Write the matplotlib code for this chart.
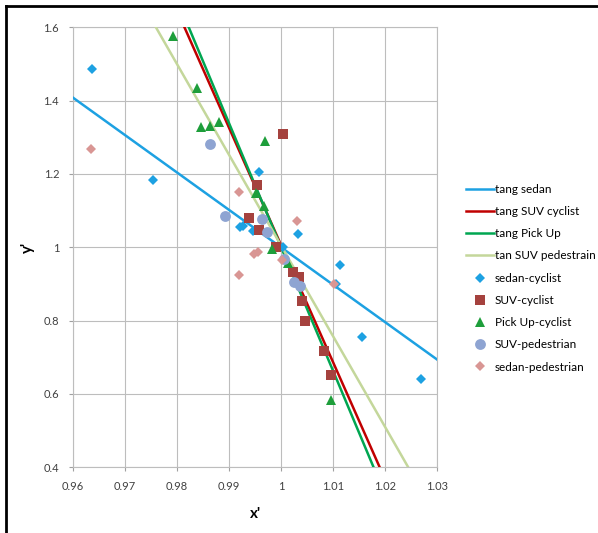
import numpy as np
import matplotlib
matplotlib.use('Agg')
import matplotlib.pyplot as plt
from matplotlib.lines import Line2D
from matplotlib.ticker import MultipleLocator, FuncFormatter

plt.rcParams['font.family'] = ['Lato', 'DejaVu Sans']

# tangent lines: y = slope * x + intercept
tang_labels = ['tang sedan', 'tang SUV cyclist', 'tang Pick Up', 'tan SUV pedestrain']
tang_slope = [-10.2, -31.96, -33.76, -24.73]
tang_intercept = [11.2, 32.9665, 34.761, 25.735]
tang_colors = ['#1DA1E2', '#C00000', '#00A651', '#C4D79B']

# measured points
sedan_cyc_x = [0.9637, 0.9753, 0.9957, 0.9921, 0.9927, 0.9946, 1.0033, 1.0004,
               1.0114, 1.0105, 1.0155, 1.0269]
sedan_cyc_y = [1.487, 1.184, 1.204, 1.056, 1.058, 1.045, 1.037, 1.002,
               0.952, 0.899, 0.754, 0.640]

suv_cyc_x = [1.0003, 0.9953, 0.9938, 0.9958, 0.9990, 1.0023, 1.0035, 1.0040,
             1.0047, 1.0083, 1.0096]
suv_cyc_y = [1.309, 1.171, 1.081, 1.047, 1.002, 0.932, 0.918, 0.854,
             0.799, 0.717, 0.652]

pickup_cyc_x = [0.9792, 0.9838, 0.9847, 0.9863, 0.9881, 0.9969, 0.9951, 0.9967,
                0.9982, 1.0014, 1.0096]
pickup_cyc_y = [1.576, 1.434, 1.327, 1.331, 1.343, 1.291, 1.147, 1.113,
                0.995, 0.956, 0.584]

suv_ped_x = [0.9864, 0.9893, 0.9964, 0.9974, 1.0005, 1.0025, 1.0036]
suv_ped_y = [1.282, 1.084, 1.076, 1.043, 0.967, 0.906, 0.895]

sedan_ped_x = [0.9635, 0.9919, 1.0031, 0.9948, 0.9956, 0.9919, 1.0001, 1.0101]
sedan_ped_y = [1.268, 1.150, 1.071, 0.981, 0.986, 0.924, 0.965, 0.899]

x_min, x_max = 0.96, 1.03
y_min, y_max = 0.4, 1.6

fig = plt.figure(figsize=(5.98, 5.33), dpi=100)
ax = fig.add_axes([0.1221, 0.1233, 0.6087, 0.8255])

handles = []
xs = np.linspace(x_min, x_max, 200)
for lab, k, b, c in zip(tang_labels, tang_slope, tang_intercept, tang_colors):
    h, = ax.plot(xs, k * xs + b, color=c, linewidth=1.8, label=lab, zorder=3)
    handles.append(h)

series = [
    ('sedan-cyclist', sedan_cyc_x, sedan_cyc_y, 'D', 5.4, '#1DA1E2'),
    ('SUV-cyclist', suv_cyc_x, suv_cyc_y, 's', 7.4, '#A5423E'),
    ('Pick Up-cyclist', pickup_cyc_x, pickup_cyc_y, '^', 7.8, '#1E9E3B'),
    ('SUV-pedestrian', suv_ped_x, suv_ped_y, 'o', 7.8, '#8EA4D2'),
    ('sedan-pedestrian', sedan_ped_x, sedan_ped_y, 'D', 5.4, '#D99694'),
]
for lab, x, y, m, ms, c in series:
    h, = ax.plot(x, y, linestyle='none', marker=m, markersize=ms, color=c,
                 markeredgewidth=0, label=lab, zorder=4)
    handles.append(h)

ax.set_xlim(x_min, x_max)
ax.set_ylim(y_min, y_max)
ax.xaxis.set_major_locator(MultipleLocator(0.01))
ax.yaxis.set_major_locator(MultipleLocator(0.2))
ax.xaxis.set_major_formatter(FuncFormatter(lambda v, p: f'{v:g}'))
ax.yaxis.set_major_formatter(FuncFormatter(lambda v, p: f'{v:g}'))
ax.grid(True, color='#BDBDBD', linewidth=0.8)
ax.set_axisbelow(True)
for s in ax.spines.values():
    s.set_color('#BDBDBD')
    s.set_linewidth(0.8)
ax.tick_params(axis='both', direction='out', length=3, width=0.8, color='#A0A0A0',
               labelsize=8, labelcolor='#404040', pad=7)

ax.set_xlabel("x'", fontsize=11, fontweight='bold', labelpad=11)
ax.set_ylabel("y'", fontsize=11, fontweight='bold', rotation=90, labelpad=6)

fig.legend(handles=handles, loc='upper left', bbox_to_anchor=(0.772, 0.664),
           frameon=False, fontsize=8.5, handlelength=2.3, handletextpad=0.1,
           labelspacing=0.95, borderaxespad=0)

# black frame on top and left
fig.add_artist(Line2D([6 / 598, 1.0], [1 - 6 / 533, 1 - 6 / 533],
                      color='black', linewidth=2.0, transform=fig.transFigure))
fig.add_artist(Line2D([6 / 598, 6 / 598], [0.0, 1 - 6 / 533],
                      color='black', linewidth=2.0, transform=fig.transFigure))

fig.savefig('out.png', dpi=100)
